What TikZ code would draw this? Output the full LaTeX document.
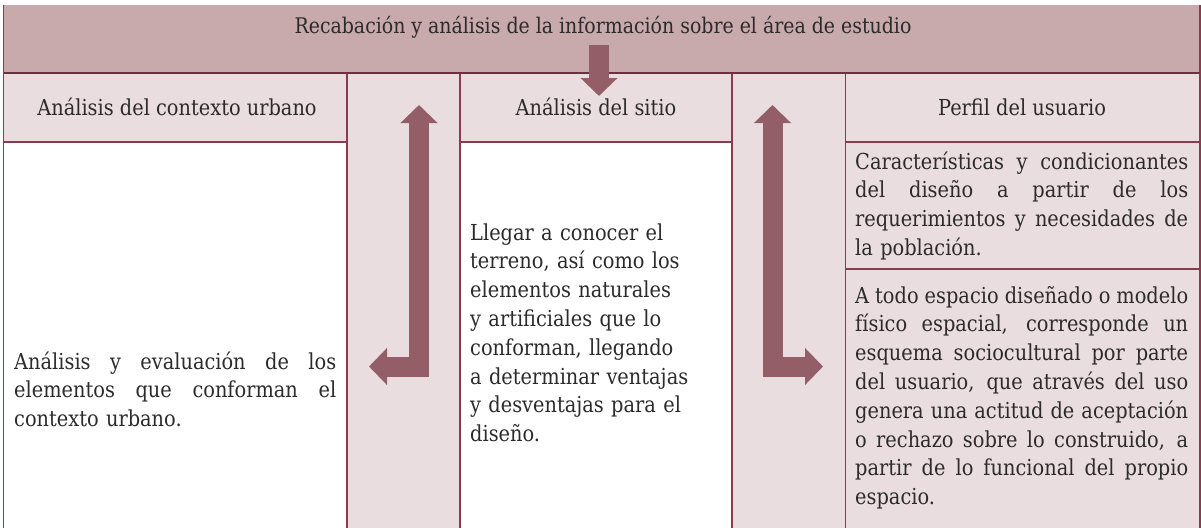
\documentclass[tikz,border=0pt]{standalone}
\usepackage{fontspec}
\setmainfont{DejaVu Serif}[FakeStretch=0.88]
\usetikzlibrary{arrows.meta}
\setlength{\parindent}{0pt}
\definecolor{bannerpink}{HTML}{C8A9AC}
\definecolor{cellpink}{HTML}{EADDDF}
\definecolor{arrowred}{HTML}{945E69}
\definecolor{rulered}{HTML}{8A3B4E}
\definecolor{inkgray}{HTML}{2B2B2B}
\newcommand{\fillline}[1]{\leavevmode\hbox to \hsize{\spaceskip=0pt plus 1fil\xspaceskip=0pt plus 1fil\relax #1}}

\begin{document}
\begin{tikzpicture}[x=1pt, y=-1pt,
    cell/.style={draw=rulered, line width=1.2pt},
    txt/.style={text=inkgray, font=\fontsize{22}{28.8}\selectfont, inner sep=0pt},
    bodytext/.style={txt, anchor=north west, align=left},
    bigarrow/.style={arrowred, line width=20pt, arrows={-Triangle[width=36pt,length=18pt]}},
    bigboth/.style={arrowred, line width=20pt, arrows={Triangle[width=36pt,length=18pt]-Triangle[width=36pt,length=18pt]}}]

    \useasboundingbox (0,0) rectangle (1201,527);

    \fill[bannerpink] (3.5,5) rectangle (1200,73);
    \draw[cell, fill=cellpink] (3.5,73) rectangle (347,142);
    \draw[cell] (3.5,142) rectangle (347,532);
    \draw[cell, fill=cellpink] (347,73) rectangle (460,532);
    \draw[cell, fill=cellpink] (460,73) rectangle (732,142);
    \draw[cell] (460,142) rectangle (732,532);
    \draw[cell, fill=cellpink] (732,73) rectangle (845.5,532);
    \draw[cell, fill=cellpink] (845.5,73) rectangle (1200,142);
    \draw[cell, fill=cellpink] (845.5,142) rectangle (1200,269);
    \draw[cell, fill=cellpink] (845.5,269) rectangle (1200,532);
    \draw[cell] (3.5,5) -- (3.5,73) (1200,5) -- (1200,73);
    \draw[cell, draw=rulered!80!black] (3.5,73) -- (1200,73);

    \node[txt, anchor=base, font=\fontsize{21.5}{28.8}\selectfont] (topic) at (603,34) {Recabación y análisis de la información sobre el área de estudio};

    \node[txt, anchor=base] (ctxhead) at (177,115.5) {Análisis del contexto urbano};
    \node[txt, anchor=base] (sitehead) at (596,115.5) {Análisis del sitio};
    \node[txt, anchor=base] (userhead) at (1022,115.5) {Perfil del usuario};

    \node[bodytext, text width=322pt] (ctxbody) at (14,348.8)
        {\strut\fillline{Análisis y evaluación de los}\\
         \fillline{elementos que conforman el}\\
         contexto urbano.};
    \node[bodytext, text width=260pt] (sitebody) at (470,219.8)
        {\strut Llegar a conocer el\\
         terreno, así como los\\
         elementos naturales\\
         y artificiales que lo\\
         conforman, llegando\\
         a determinar ventajas\\
         y desventajas para el\\
         diseño.};
    \node[bodytext, text width=333pt] (userneeds) at (855,148.8)
        {\strut\fillline{Características y condicionantes}\\
         \fillline{del diseño a partir de los}\\
         \fillline{requerimientos y necesidades de}\\
         la población.};
    \node[bodytext, text width=333pt] (userscheme) at (855,282.8)
        {\strut\fillline{A todo espacio diseñado o modelo}\\
         \fillline{físico espacial, corresponde un}\\
         \fillline{esquema sociocultural por parte}\\
         \fillline{del usuario, que através del uso}\\
         \fillline{genera una actitud de aceptación}\\
         \fillline{o rechazo sobre lo construido, a}\\
         \fillline{partir de lo funcional del propio}\\
         espacio.};

    \coordinate (downstart) at (599,45);
    \coordinate (downend) at (599,96);
    \coordinate (lefttop) at (419,105);
    \coordinate (lefttip) at (369,366.5);
    \coordinate (righttop) at (772.5,105);
    \coordinate (righttip) at (823,366.5);

    \draw[bigarrow] (downstart) -- (downend);
    \draw[bigboth] (lefttip) -| (lefttop);
    \draw[bigboth] (righttop) |- (righttip);

\end{tikzpicture}
\end{document}
